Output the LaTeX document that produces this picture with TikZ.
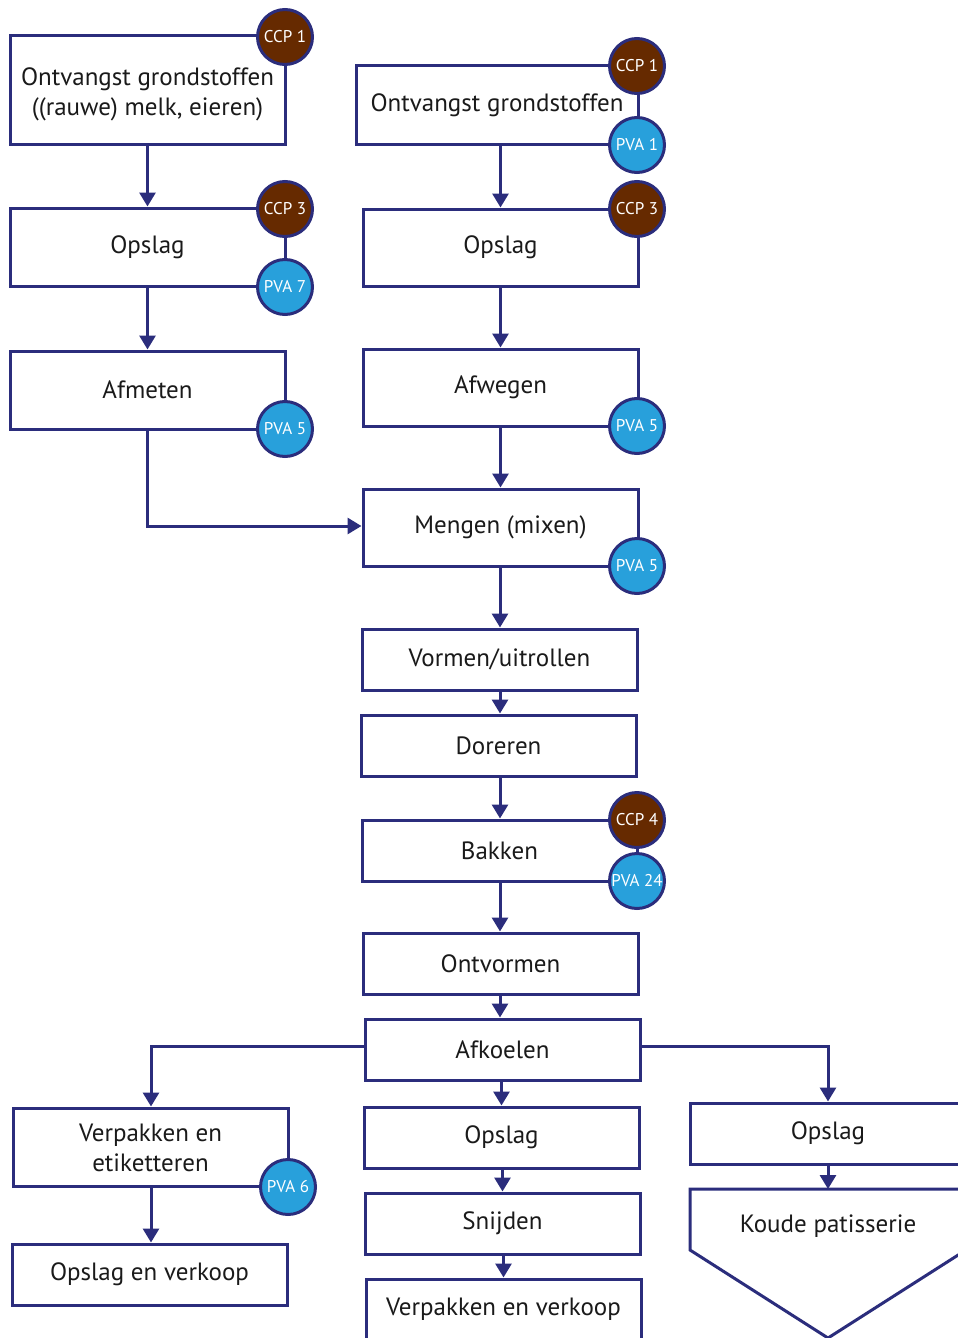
\documentclass[tikz,border=0pt]{standalone}
\usepackage{fontspec}
\setmainfont{PT Sans}
\usetikzlibrary{arrows.meta}
\definecolor{navy}{HTML}{2B2D7C}
\definecolor{ccpbrown}{HTML}{662A00}
\definecolor{pvablue}{HTML}{28A0DB}
\definecolor{ink}{HTML}{1A1A1A}
% two centred lines, nudged slightly downwards inside their box
\newcommand{\twolines}[3]{\raisebox{-#1}[\height][\depth]{\begin{tabular}{@{}c@{}}#2\\#3\end{tabular}}}
\begin{document}
\begin{tikzpicture}[x=1pt,y=-1pt,
  stepbox/.style={draw=navy, line width=3pt, fill=white, inner sep=0pt,
    minimum width=275pt, minimum height=61pt, align=center, text=ink,
    font=\fontsize{25}{30}\selectfont},
  tallbox/.style={stepbox, minimum height=78pt},
  badge/.style={circle, draw=navy, line width=3pt, minimum size=55pt, inner sep=0pt,
    text=white, font=\fontsize{17}{19}\selectfont},
  ccp/.style={badge, fill=ccpbrown},
  pva/.style={badge, fill=pvablue},
  arr/.style={draw=navy, line width=3pt, -{Triangle[length=14pt,width=16pt]}},
  conn/.style={draw=navy, line width=3pt}]
\useasboundingbox (0,0) rectangle (958,1338);
\clip (0,0) rectangle (958,1338);

% left column: raw milk and eggs
\node[tallbox, minimum height=108pt] (b1) at (147.5,90) {\twolines{4pt}{Ontvangst grondstoffen}{((rauwe) melk, eieren)}};
\node[tallbox] (b2) at (147.5,247) {Opslag};
\node[tallbox] (b3) at (147.5,390) {Afmeten};

% middle column: main line
\node[tallbox, minimum width=282pt] (m1) at (497,105) {Ontvangst grondstoffen};
\node[tallbox, minimum height=77pt] (m2) at (500.5,247.5) {Opslag};
\node[tallbox, minimum height=77pt] (m3) at (500.5,387.5) {Afwegen};
\node[tallbox, minimum height=77pt] (m4) at (500.5,527.5) {Mengen (mixen)};
\node[stepbox] (m5) at (499.5,659.5) {Vormen/uitrollen};
\node[stepbox] (m6) at (498.5,745.5) {Doreren};
\node[stepbox] (m7) at (499.5,850.5) {Bakken};
\node[stepbox] (m8) at (500.5,963.5) {Ontvormen};
\node[stepbox] (m9) at (502.5,1049.5) {Afkoelen};
\node[stepbox] (m10) at (501.5,1137.5) {Opslag};
\node[stepbox] (m11) at (502.5,1223.5) {Snijden};
\node[stepbox] (m12) at (503.5,1309.5) {Verpakken en verkoop};

% bottom-left branch
\node[tallbox] (l1) at (150.5,1147) {\twolines{3pt}{Verpakken en}{etiketteren}};
\node[stepbox] (l2) at (149.5,1274.5) {Opslag en verkoop};

% bottom-right branch
\node[stepbox, minimum width=276pt] (r1) at (828,1133.5) {Opslag};
\draw[conn, fill=white, line join=miter] (690,1189) -- (966,1189) -- (966,1250) -- (828,1338) -- (690,1250) -- cycle;
\coordinate (r2top) at (828,1189);
\node[text=ink, font=\fontsize{25}{30}\selectfont] (r2) at (828,1226) {Koude patisserie};

% connectors
\draw[arr] (b1.south) -- (b2.north);
\draw[arr] (b2.south) -- (b3.north);
\draw[arr] (b3.south) |- (m4.west |- 0,526);
\draw[arr] (m1.south -| m2.north) -- (m2.north);
\draw[arr] (m2.south) -- (m3.north);
\draw[arr] (m3.south) -- (m4.north);
\draw[arr] (m4.south -| 500,0) -- (m5.north -| 500,0);
\draw[arr] (m5.south -| 500,0) -- (m6.north -| 500,0);
\draw[arr] (m6.south -| 500,0) -- (m7.north -| 500,0);
\draw[arr] (m7.south -| 500,0) -- (m8.north -| 500,0);
\draw[arr] (m8.south -| 500,0) -- (m9.north -| 500,0);
\draw[arr] (m9.south -| m10.north) -- (m10.north);
\draw[arr] (m10.south -| m11.north) -- (m11.north);
\draw[arr] (m11.south -| m12.north) -- (m12.north);
\draw[arr] (m9.west |- 0,1046) -| (l1.north -| 151,0);
\draw[arr] (l1.south -| 151,0) -- (l2.north -| 151,0);
\draw[arr] (m9.east |- 0,1046) -| (r1.north);
\draw[arr] (r1.south) -- (r2top);

% control points
\node[ccp] (c1) at (285,37) {CCP 1};
\node[ccp] (c2) at (285,209) {CCP 3};
\node[pva] (p1) at (285,287) {PVA 7};
\node[pva] (p2) at (285,429) {PVA 5};
\node[ccp] (c3) at (637,66) {CCP 1};
\node[pva] (p3) at (637,145) {PVA 1};
\node[ccp] (c4) at (637,209) {CCP 3};
\node[pva] (p4) at (637,426) {PVA 5};
\node[pva] (p5) at (637,566) {PVA 5};
\node[ccp] (c5) at (637,820) {CCP 4};
\node[pva] (p6) at (637,881) {PVA 24};
\node[pva] (p7) at (288,1187) {PVA 6};
\end{tikzpicture}
\end{document}
